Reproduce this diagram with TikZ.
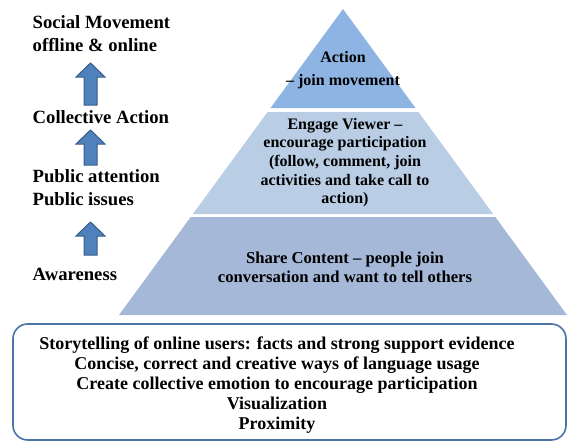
\documentclass[tikz,border=0pt]{standalone}
\usepackage{fontspec}
\setmainfont{Liberation Serif}
\usepackage{tikz}
\usetikzlibrary{positioning}

\definecolor{tiertop}{HTML}{8DB4E2}
\definecolor{tiermid}{HTML}{B9CDE5}
\definecolor{tierlow}{HTML}{A5B8D8}
\definecolor{arrowfill}{HTML}{4F81BD}
\definecolor{arrowline}{HTML}{385D8A}
\definecolor{boxline}{HTML}{4A73A8}

\tikzset{
    stage/.style={anchor=west, align=left, font=\bfseries\fontsize{14}{17.25}\selectfont},
    tiertext/.style={align=center, font=\bfseries\fontsize{12}{14}\selectfont},
    uparrow/.style={fill=arrowfill, draw=arrowline, line width=0.75pt, line join=miter},
}

\begin{document}
\begin{tikzpicture}[x=0.75pt, y=-0.75pt]
    \useasboundingbox (0,0) rectangle (568,443);

    % Pyramid tiers, white gaps left between them
    \fill[tiertop] (343,9) -- (415.5,108) -- (270.5,108) -- cycle;
    \fill[tiermid] (267.6,112) -- (418.4,112) -- (493.1,214) -- (192.9,214) -- cycle;
    \fill[tierlow] (190.7,217) -- (495.3,217) -- (567,315) -- (119,315) -- cycle;

    % Tier labels
    \node[tiertext] (action) at (343,57) {Action};
    \node[tiertext] (join) at (343,82) {-- join movement};
    \node[tiertext] (engage) at (345,162.5)
        {Engage Viewer --\\encourage participation\\(follow, comment, join\\activities and take call to\\action)};
    \node[tiertext, font=\bfseries\fontsize{12.5}{14.2}\selectfont] (share) at (345,267.5)
        {Share Content -- people join\\conversation and want to tell others};

    % Stages on the left
    \node[stage] (movement) at (28,33.5) {Social Movement\\offline \& online};
    \node[stage] (collective) at (28,117) {Collective Action};
    \node[stage] (public) at (28,188) {Public attention\\Public issues};
    \node[stage] (awareness) at (28,274) {Awareness};

    % Block arrows between the stages (tip / tail)
    \foreach \tip/\tail in {63/105, 130/165, 222/255} {
        \draw[uparrow] (84,\tail) -- (84,\tip+14) -- (76,\tip+14) -- (90.5,\tip)
            -- (105,\tip+14) -- (97,\tip+14) -- (97,\tail) -- cycle;
    }

    % Rounded box with the storytelling points
    \draw[boxline, line width=1.2pt, rounded corners=11pt] (13,324) rectangle (566,440);
    \node[align=center, font=\bfseries\fontsize{13.5}{15}\selectfont] (tips) at (277,385)
        {Storytelling of online users: facts and strong support evidence\\
         Concise, correct and creative ways of language usage\\
         Create collective emotion to encourage participation\\
         Visualization\\
         Proximity};
\end{tikzpicture}
\end{document}
